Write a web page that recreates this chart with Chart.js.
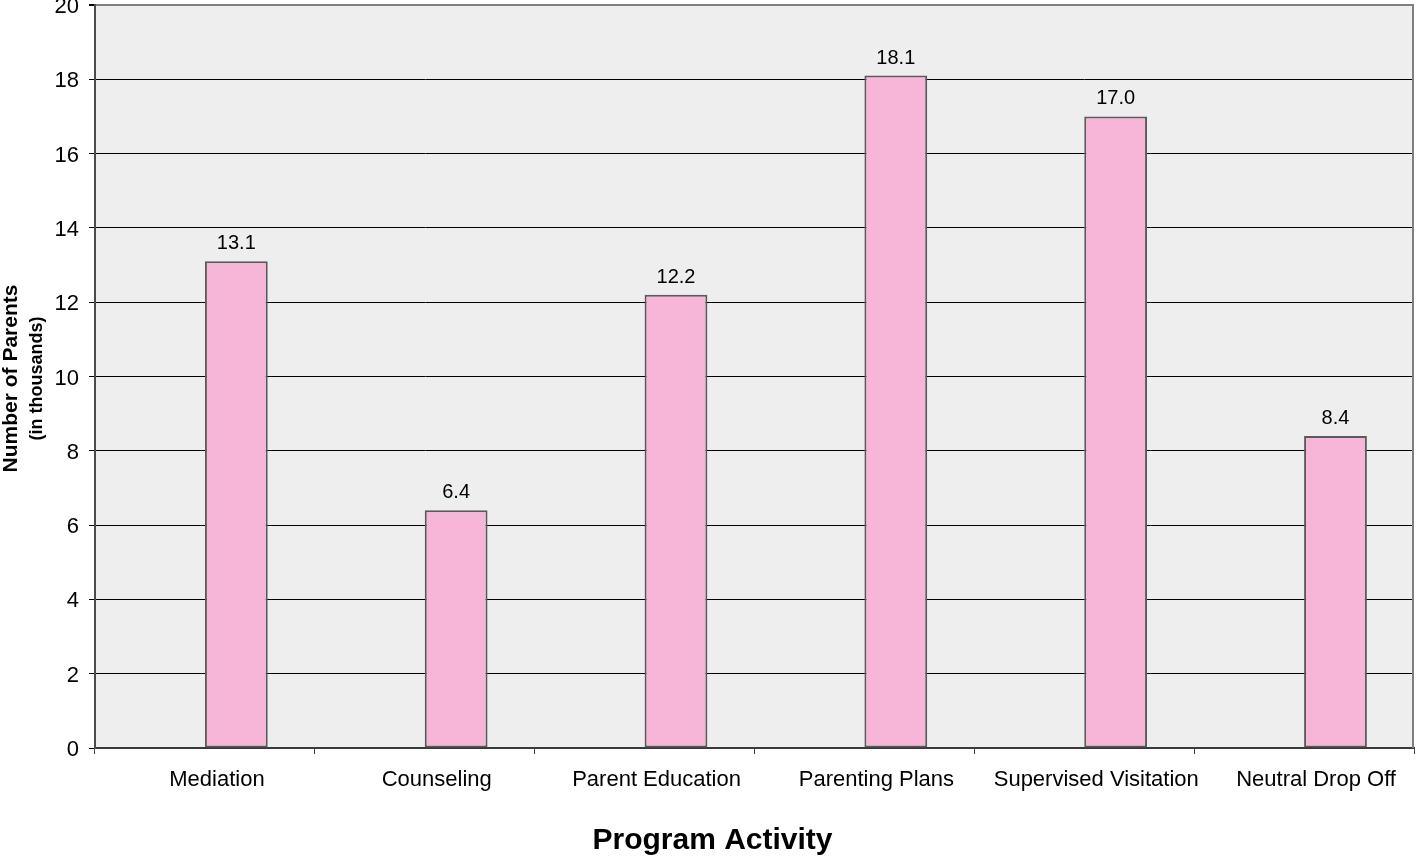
<!DOCTYPE html>
<html>
<head>
<meta charset="utf-8">
<script src="https://cdn.jsdelivr.net/npm/chart.js@4.4.0/dist/chart.umd.min.js"></script>
<style>
html,body{margin:0;padding:0;background:#fff;}
#wrap{width:1425px;height:861px;}
</style>
</head>
<body>
<div id="wrap"><canvas id="c" width="1425" height="861"></canvas></div>
<script>
const categories = ["Mediation","Counseling","Parent Education","Parenting Plans","Supervised Visitation","Neutral Drop Off"];
const parents = [13.1, 6.4, 12.2, 18.1, 17.0, 8.4];
const emptySeries = [null, null, null, null, null, null];
const yTicks = [0,2,4,6,8,10,12,14,16,18,20];
const yTitle = ["Number of Parents","(in thousands)"];
const xTitle = "Program Activity";

const FONT = "'Liberation Sans', Arial, sans-serif";

const bgPlugin = {
  id:'bg',
  beforeDraw(chart){
    const {ctx, chartArea:a} = chart;
    ctx.save();
    ctx.fillStyle = '#eeeeee';
    ctx.fillRect(a.left, a.top, a.right-a.left, a.bottom-a.top);
    ctx.restore();
  },
  afterDraw(chart){
    const {ctx, chartArea:a} = chart;
    ctx.save();
    ctx.strokeStyle = '#808080';
    ctx.lineWidth = 2;
    ctx.beginPath();
    ctx.moveTo(a.right-1, a.top);
    ctx.lineTo(a.right-1, a.bottom);
    ctx.stroke();
    ctx.restore();
  }
};

const labelPlugin = {
  id:'labels',
  afterDatasetsDraw(chart){
    const {ctx} = chart;
    const meta = chart.getDatasetMeta(1);
    ctx.save();
    ctx.font = "20px " + FONT;
    ctx.fillStyle = '#000';
    ctx.textAlign = 'center';
    ctx.textBaseline = 'alphabetic';
    meta.data.forEach((bar,i)=>{
      ctx.fillText(parents[i].toFixed(1), bar.x, bar.y - 12);
    });
    ctx.restore();
  }
};

const titlePlugin = {
  id:'titles',
  afterDraw(chart){
    const {ctx, chartArea:a} = chart;
    ctx.save();
    ctx.fillStyle = '#000';
    ctx.textAlign = 'center';
    ctx.textBaseline = 'middle';
    const cy = (a.top + a.bottom)/2 + 2;
    ctx.translate(11, cy);
    ctx.rotate(-Math.PI/2);
    ctx.font = "bold 21px " + FONT;
    ctx.fillText(yTitle[0], 0, 0);
    ctx.font = "bold 18px " + FONT;
    ctx.fillText(yTitle[1], 0, 26);
    ctx.restore();
    ctx.save();
    ctx.fillStyle = '#000';
    ctx.textAlign = 'center';
    ctx.textBaseline = 'alphabetic';
    ctx.font = "bold 30px " + FONT;
    ctx.fillText(xTitle, chart.width/2, 849);
    ctx.restore();
  }
};

new Chart(document.getElementById('c'), {
  type:'bar',
  data:{
    labels: categories,
    datasets:[
      {
        label:'',
        data: emptySeries,
        backgroundColor:'#f7b6d7',
        categoryPercentage:0.5714,
        barPercentage:1
      },
      {
        label:'Parents',
        data: parents,
        backgroundColor:'#f7b6d7',
        borderColor:'#5a5a5a',
        borderWidth:2,
        borderSkipped:false,
        categoryPercentage:0.5714,
        barPercentage:1
      }
    ]
  },
  options:{
    responsive:false,
    animation:false,
    devicePixelRatio:1,
    layout:{padding:{top:5,right:11,left:0,bottom:0}},
    plugins:{legend:{display:false},tooltip:{enabled:false}},
    scales:{
      x:{
        offset:true,
        grid:{offset:true, drawOnChartArea:false, drawTicks:true, tickLength:6, color:'#444', lineWidth:1},
        border:{display:true, color:'#3a3a3a', width:2},
        ticks:{color:'#000', font:{family:FONT, size:22}, padding:13, labelOffset:12, maxRotation:0, autoSkip:false},
        afterFit(s){ s.height = 113; s.paddingLeft = 0; s.paddingRight = 0; }
      },
      y:{
        min:0, max:20,
        afterBuildTicks(s){ s.ticks = yTicks.map(v=>({value:v})); },
        grid:{
          color:(c)=> c.tick && c.tick.value===20 ? '#808080' : '#000',
          lineWidth:(c)=> c.tick && c.tick.value===20 ? 2 : 1,
          tickLength:6, tickColor:'#000'
        },
        border:{display:true, color:'#4a4a4a', width:2},
        ticks:{color:'#000', font:{family:FONT, size:22}, padding:10, labelOffset:2},
        afterFit(s){ s.width = 95; s.paddingTop = 0; s.paddingBottom = 0; }
      }
    }
  },
  plugins:[bgPlugin, labelPlugin, titlePlugin]
});
</script>
</body>
</html>
